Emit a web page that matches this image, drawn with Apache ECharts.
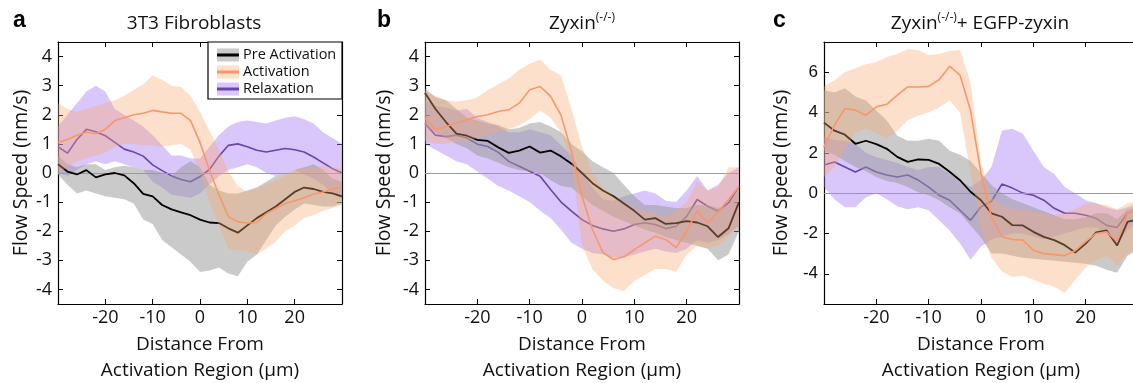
<!DOCTYPE html>
<html lang="en">
<head>
<meta charset="UTF-8">
<title>Flow speed profiles</title>
<style>
  html, body { margin: 0; width: 100%; height: 100%; background: #fff; }
  #chart { width: 1133px; height: 383px; }
</style>
</head>
<body>
<div id="chart"></div>
<script src="https://cdn.jsdelivr.net/npm/echarts@6/dist/echarts.min.js"></script>
<script>
  // distance from activation region (µm)
  const xs = [-30,-28,-26,-24,-22,-20,-18,-16,-14,-12,-10,-8,-6,-4,-2,0,2,4,6,8,10,12,14,16,18,20,22,24,26,28,30];

  // a: 3T3 fibroblasts
  const aPre   = [0.3,0.05,-0.05,0.1,-0.15,-0.05,0.0,-0.08,-0.35,-0.72,-0.8,-1.1,-1.25,-1.35,-1.45,-1.6,-1.7,-1.72,-1.9,-2.05,-1.8,-1.55,-1.35,-1.15,-0.9,-0.65,-0.5,-0.55,-0.65,-0.7,-0.8];
  const aPreLo = [-0.05,-0.4,-0.7,-0.6,-0.7,-0.8,-0.85,-0.9,-1.05,-1.6,-1.75,-2.3,-2.55,-2.8,-3.05,-3.4,-3.35,-3.25,-3.45,-3.55,-3.05,-2.8,-2.3,-1.8,-1.5,-1.25,-1.05,-1.1,-1.15,-1.15,-1.05];
  const aPreHi = [0.6,0.3,0.2,0.3,0.3,0.1,0.2,0.25,0.2,0.1,0.1,0.0,-0.1,0.2,0.4,0.2,-0.4,-0.6,-0.7,-0.7,-0.6,-0.5,-0.3,-0.1,0.0,0.1,0.2,0.3,0.1,-0.2,-0.3];
  const aAct   = [1.05,1.15,1.3,1.4,1.35,1.5,1.8,1.9,2.0,2.05,2.15,2.1,2.05,2.05,1.8,1.05,0.1,-0.75,-1.5,-1.68,-1.72,-1.7,-1.4,-1.22,-1.05,-0.95,-0.85,-0.72,-0.65,-0.55,-0.48];
  const aActLo = [0.0,0.2,0.4,0.5,0.6,0.7,0.9,1.0,1.0,0.95,0.95,0.9,0.95,1.0,0.8,0.0,-1.0,-1.8,-2.6,-2.65,-2.7,-2.8,-2.6,-2.35,-2.0,-1.8,-1.55,-1.45,-1.3,-1.2,-1.1];
  const aActHi = [2.4,2.2,2.1,2.2,2.3,2.4,2.5,2.65,2.85,3.05,3.35,3.2,3.0,2.95,2.65,2.1,1.45,0.8,0.05,-0.45,-0.65,-0.5,-0.4,-0.25,-0.1,0.1,0.2,0.2,0.25,0.2,0.15];
  const aRel   = [0.9,0.68,1.15,1.5,1.42,1.28,1.05,0.82,0.72,0.58,0.28,0.08,-0.1,-0.22,-0.3,-0.12,0.12,0.58,0.95,1.0,0.9,0.78,0.72,0.78,0.84,0.8,0.72,0.55,0.35,0.15,0.0];
  const aRelLo = [0.0,-0.1,0.1,0.3,0.4,0.3,0.4,0.3,0.2,0.1,-0.3,-0.5,-0.75,-0.8,-0.85,-0.7,-0.4,-0.1,0.1,0.2,0.3,0.2,0.0,-0.1,0.0,0.1,-0.05,-0.2,-0.4,-0.7,-0.9];
  const aRelHi = [1.6,2.0,2.4,2.8,3.0,2.8,2.2,2.0,1.8,1.6,1.3,0.95,0.6,0.6,0.5,0.5,0.9,1.3,1.6,1.75,1.8,1.75,1.7,1.8,1.9,1.95,1.85,1.7,1.4,1.2,1.0];

  // b: Zyxin(-/-)
  const bPre   = [2.75,2.2,1.75,1.35,1.28,1.14,1.1,0.88,0.69,0.77,0.91,0.7,0.77,0.57,0.32,0.0,-0.35,-0.6,-0.8,-1.05,-1.3,-1.6,-1.55,-1.75,-1.72,-1.65,-1.7,-1.83,-2.2,-1.9,-1.0];
  const bPreLo = [1.6,1.4,1.2,1.0,0.85,0.6,0.5,0.35,0.2,0.1,0.05,0.0,-0.25,-0.45,-0.5,-0.8,-1.1,-1.3,-1.5,-1.65,-1.8,-1.95,-2.05,-2.2,-2.3,-2.4,-2.5,-2.6,-3.0,-2.8,-2.0];
  const bPreHi = [2.9,2.6,2.5,2.2,1.9,1.8,1.7,1.65,1.5,1.55,1.7,1.75,1.6,1.4,1.0,0.75,0.4,0.2,0.0,-0.4,-0.8,-1.1,-1.1,-1.15,-1.2,-1.2,-1.1,-1.1,-1.2,-1.1,-0.5];
  const bAct   = [1.89,1.5,1.6,1.71,1.83,1.94,2.0,2.11,2.17,2.4,2.86,2.97,2.63,1.98,0.74,-0.8,-1.94,-2.73,-2.97,-2.88,-2.63,-2.4,-2.17,-2.29,-2.56,-2.0,-1.31,-1.71,-1.34,-0.91,-0.46];
  const bActLo = [1.1,1.0,1.0,1.1,1.1,1.2,1.3,1.4,1.5,1.65,1.85,2.15,1.9,1.4,0.4,-2.5,-3.3,-3.7,-3.95,-4.05,-3.7,-3.5,-3.3,-3.3,-3.4,-2.8,-2.5,-2.6,-2.5,-2.2,-1.8];
  const bActHi = [2.8,2.65,2.5,2.45,2.5,2.6,2.85,3.05,3.25,3.55,3.75,3.9,3.55,3.35,2.2,0.9,0.0,-0.5,-0.8,-1.0,-1.2,-1.3,-1.4,-1.5,-1.3,-1.0,-0.3,-0.6,-0.5,0.2,0.2];
  const bRel   = [1.7,1.3,1.25,1.3,1.2,0.99,0.91,0.71,0.4,0.23,0.06,-0.11,-0.57,-1.0,-1.31,-1.6,-1.8,-1.92,-2.0,-1.92,-1.77,-1.71,-1.77,-1.91,-1.83,-1.49,-0.91,-1.14,-1.31,-1.03,-0.46];
  const bRelLo = [1.0,0.8,0.6,0.4,0.3,0.05,-0.2,-0.45,-0.6,-0.8,-1.0,-1.3,-1.55,-1.95,-2.4,-2.6,-2.75,-2.8,-2.9,-2.9,-2.8,-2.7,-2.6,-2.7,-2.75,-2.6,-2.3,-2.4,-2.3,-2.1,-1.8];
  const bRelHi = [2.5,2.3,2.25,2.15,2.2,1.9,1.75,1.6,1.4,1.4,1.5,1.4,1.3,0.95,0.6,0.0,-0.5,-0.9,-0.95,-0.8,-0.7,-0.6,-0.7,-0.95,-1.0,-0.6,-0.1,-0.6,-0.4,0.0,0.2];

  // c: Zyxin(-/-) + EGFP-zyxin
  const cPre   = [3.5,3.1,2.9,2.45,2.6,2.43,2.2,1.8,1.55,1.67,1.65,1.45,1.06,0.64,0.07,-0.35,-1.0,-1.17,-1.59,-1.6,-1.92,-2.17,-2.33,-2.58,-2.95,-2.5,-1.95,-1.85,-2.6,-1.42,-1.3];
  const cPreLo = [2.1,1.9,1.6,1.3,1.1,0.8,0.6,0.5,0.3,0.05,-0.1,-0.35,-0.7,-1.0,-1.6,-2.2,-3.0,-3.0,-3.1,-3.2,-3.25,-3.3,-3.35,-3.4,-3.45,-3.5,-3.6,-3.8,-3.95,-3.1,-2.8];
  const cPreHi = [5.1,5.0,5.2,4.8,4.6,4.1,3.6,2.85,2.6,2.6,2.7,2.6,2.1,1.9,1.6,1.0,0.4,0.0,-0.3,-0.5,-0.7,-0.9,-1.1,-1.3,-1.3,-1.2,-1.0,-1.0,-1.3,-0.8,-0.7];
  const cAct   = [2.3,3.37,4.2,4.12,3.87,4.28,4.41,4.86,5.27,5.27,5.3,5.63,6.3,5.85,4.1,0.98,-1.17,-2.17,-2.3,-2.33,-2.83,-3.0,-3.05,-3.1,-2.85,-2.4,-2.0,-1.92,-2.4,-1.0,-0.8];
  const cActLo = [0.8,1.3,2.2,3.0,3.2,3.0,2.7,3.1,3.6,3.85,4.0,4.25,4.6,4.0,1.0,-1.8,-3.2,-3.9,-4.15,-4.1,-4.3,-4.5,-4.65,-4.95,-4.3,-3.7,-3.3,-3.1,-3.6,-3.0,-2.7];
  const cActHi = [5.3,5.6,6.0,6.2,6.4,6.5,6.75,6.9,7.15,7.1,6.85,6.9,7.05,7.1,5.5,1.5,-0.2,-0.6,-0.8,-0.8,-0.9,-1.0,-1.1,-1.0,-0.8,-0.5,-0.5,-0.6,-0.8,-0.5,-0.4];
  const cRel   = [1.4,1.55,1.3,1.05,1.3,1.05,0.9,0.8,0.9,0.65,0.3,-0.1,-0.35,-0.85,-1.35,-0.68,-0.4,0.45,0.25,0.0,-0.1,-0.35,-0.75,-1.0,-1.0,-1.1,-1.25,-1.6,-1.7,-1.0,-0.8];
  const cRelLo = [0.3,-0.3,-0.7,-0.7,-0.2,0.0,-0.3,-0.65,-0.8,-0.7,-0.85,-1.35,-1.85,-2.5,-3.3,-2.65,-2.3,-2.15,-2.0,-2.0,-2.15,-2.3,-2.15,-2.0,-1.85,-1.7,-1.7,-2.0,-2.6,-1.8,-1.4];
  const cRelHi = [2.8,2.65,2.6,2.45,2.0,1.8,1.65,1.5,1.3,1.15,1.3,1.3,0.95,0.65,0.3,0.65,1.3,3.1,3.2,2.95,2.1,1.3,0.95,0.3,0.0,-0.35,-0.5,-0.7,-0.85,-0.7,-0.5];

  const xTicks = [-20, -10, 0, 10, 20];
  const yTicksAB = [-4, -3, -2, -1, 0, 1, 2, 3, 4];
  const yTicksC = [-4, -2, 0, 2, 4, 6];
  const legendNames = ['Pre Activation', 'Activation', 'Relaxation'];

  const FONT = 'Open Sans';
  const colors = {
    pre: { line: '#000000', band: 'rgba(150,150,150,0.5)', width: 1.8 },
    act: { line: '#f8966c', band: 'rgba(250,170,110,0.36)', width: 1.6 },
    rel: { line: '#6846ad', band: 'rgba(165,120,245,0.42)', width: 1.6 }
  };
  // bands and lines are stacked relaxation first, then pre activation, then activation on top
  const drawOrder = ['rel', 'pre', 'act'];

  const panels = [
    { left: 58,  width: 284, yMin: -4.5, yMax: 4.5, yTicks: yTicksAB, nameGap: 27, yFont: FONT,
      pre: [aPre, aPreLo, aPreHi], act: [aAct, aActLo, aActHi], rel: [aRel, aRelLo, aRelHi] },
    { left: 425, width: 314, yMin: -4.5, yMax: 4.5, yTicks: yTicksAB, nameGap: 31, yFont: FONT,
      pre: [bPre, bPreLo, bPreHi], act: [bAct, bActLo, bActHi], rel: [bRel, bRelLo, bRelHi] },
    { left: 824, width: 314, yMin: -5.5, yMax: 7.5, yTicks: yTicksC, nameGap: 33, yFont: 'Liberation Sans',
      pre: [cPre, cPreLo, cPreHi], act: [cAct, cActLo, cActHi], rel: [cRel, cRelLo, cRelHi] }
  ];

  function pairs(arr) { return xs.map((x, i) => [x, arr[i]]); }

  // shaded band between lo and hi, drawn as one polygon through the axes
  function bandSeries(g, lo, hi, fill, z) {
    return {
      type: 'custom', xAxisIndex: g * 2, yAxisIndex: g * 2, silent: true, clip: true, z: z,
      data: [[xs[0], lo[0]]],
      encode: { x: 0, y: 1 },
      renderItem: function (params, api) {
        const top = xs.map((x, i) => api.coord([x, hi[i]]));
        const bottom = xs.map((x, i) => api.coord([x, lo[i]])).reverse();
        return { type: 'polygon', shape: { points: top.concat(bottom) }, style: { fill: fill } };
      }
    };
  }

  const grid = [], xAxis = [], yAxis = [], series = [];
  const tickStyle = { show: true, inside: true, length: 5, lineStyle: { color: '#000', width: 1 } };
  const lineStyleAxis = { show: true, onZero: false, lineStyle: { color: '#000', width: 1.2 } };

  panels.forEach((p, g) => {
    // keep the plot box where it is; the last panel runs past the right edge
    grid.push({ left: p.left, top: 42, width: p.width, height: 262, containLabel: false, outerBoundsMode: 'none' });
    xAxis.push({
      type: 'value', gridIndex: g, min: -30, max: 30, position: 'bottom',
      axisLine: lineStyleAxis, splitLine: { show: false },
      axisTick: Object.assign({ customValues: xTicks }, tickStyle),
      axisLabel: { customValues: xTicks, margin: 5, fontFamily: FONT, fontSize: 18, color: '#111' },
      name: 'Distance From\nActivation Region (µm)', nameLocation: 'middle', nameGap: 26,
      nameTextStyle: { fontFamily: FONT, fontSize: 19, color: '#111', lineHeight: 26 }
    });
    xAxis.push({
      type: 'value', gridIndex: g, min: -30, max: 30, position: 'top',
      axisLine: lineStyleAxis, splitLine: { show: false },
      axisTick: Object.assign({ customValues: xTicks }, tickStyle),
      axisLabel: { show: false }
    });
    yAxis.push({
      type: 'value', gridIndex: g, min: p.yMin, max: p.yMax, position: 'left',
      axisLine: lineStyleAxis, splitLine: { show: false },
      axisTick: Object.assign({ customValues: p.yTicks }, tickStyle),
      axisLabel: { customValues: p.yTicks, margin: 6, fontFamily: p.yFont, fontSize: g === 2 ? 17 : 18, color: '#111' },
      name: 'Flow Speed (nm/s)', nameLocation: 'middle', nameRotate: 90, nameGap: p.nameGap,
      nameTextStyle: { fontFamily: FONT, fontSize: 19.5, color: '#111' }
    });
    yAxis.push({
      type: 'value', gridIndex: g, min: p.yMin, max: p.yMax, position: 'right',
      axisLine: lineStyleAxis, splitLine: { show: false },
      axisTick: Object.assign({ customValues: p.yTicks }, tickStyle),
      axisLabel: { show: false }
    });

    drawOrder.forEach((key, k) => {
      const [mean, lo, hi] = p[key];
      series.push(bandSeries(g, lo, hi, colors[key].band, 2 + k * 2));
      series.push({
        type: 'line', xAxisIndex: g * 2, yAxisIndex: g * 2, symbol: 'none', silent: true,
        data: pairs(mean), lineStyle: { color: colors[key].line, width: colors[key].width }, z: 3 + k * 2
      });
    });
    // zero reference line, on top of the bands
    series.push({
      type: 'line', xAxisIndex: g * 2, yAxisIndex: g * 2, symbol: 'none', silent: true, data: [],
      markLine: {
        silent: true, symbol: 'none', label: { show: false },
        lineStyle: { color: '#9a9a9a', width: 1, type: 'solid' },
        data: [{ yAxis: 0 }]
      },
      z: 9
    });
  });

  // panel letters, titles and the legend of panel a
  const richTitle = {
    n: { fontFamily: FONT, fontSize: 19, fill: '#111', lineHeight: 24 },
    s: { fontFamily: FONT, fontSize: 12, fill: '#111', verticalAlign: 'top', lineHeight: 24 }
  };
  const graphic = [
    { type: 'text', left: 13, top: 9, style: { text: 'a', font: 'bold 23px "Liberation Sans"', fill: '#000' } },
    { type: 'text', left: 377, top: 9, style: { text: 'b', font: 'bold 23px "Liberation Sans"', fill: '#000' } },
    { type: 'text', left: 773, top: 9, style: { text: 'c', font: 'bold 23px "Liberation Sans"', fill: '#000' } },
    { type: 'text', x: 194, y: 24, style: { text: '3T3 Fibroblasts', font: '19px "Open Sans"', fill: '#111',
        align: 'center', verticalAlign: 'middle' } },
    { type: 'text', x: 582, y: 24, style: { text: '{n|Zyxin}{s|(-/-)}', align: 'center', verticalAlign: 'middle', rich: richTitle } },
    { type: 'text', x: 980, y: 24, style: { text: '{n|Zyxin}{s|(-/-)}{n|+ EGFP-zyxin}', align: 'center', verticalAlign: 'middle', rich: richTitle } },
    { type: 'rect', shape: { x: 208, y: 42, width: 134, height: 57 }, style: { fill: '#fff', stroke: '#000', lineWidth: 1.2 }, z: 100 }
  ];
  ['pre', 'act', 'rel'].forEach((key, i) => {
    const cy = 55 + 17 * i;
    graphic.push({ type: 'rect', shape: { x: 217, y: cy - 6.5, width: 22, height: 13 }, style: { fill: colors[key].band }, z: 101 });
    graphic.push({ type: 'line', shape: { x1: 217, y1: cy, x2: 239, y2: cy }, style: { stroke: colors[key].line, lineWidth: 3 }, z: 102 });
    graphic.push({ type: 'text', x: 243, y: cy, style: { text: legendNames[i], font: '14.5px "Open Sans"', fill: '#111',
      verticalAlign: 'middle' }, z: 102 });
  });

  const chart = echarts.init(document.getElementById('chart'));
  chart.setOption({
    animation: false,
    backgroundColor: '#fff',
    grid: grid,
    xAxis: xAxis,
    yAxis: yAxis,
    series: series,
    graphic: graphic
  });
</script>
</body>
</html>
